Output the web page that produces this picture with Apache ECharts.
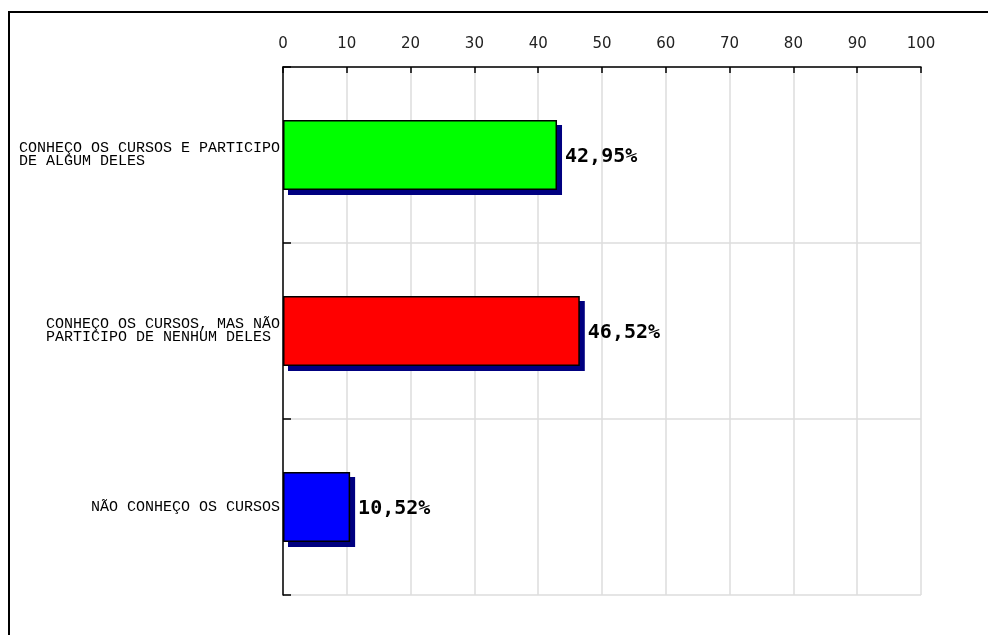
<!DOCTYPE html>
<html>
<head>
<meta charset="utf-8">
<script src="https://cdn.jsdelivr.net/npm/echarts@6/dist/echarts.min.js"></script>
<style>html,body{margin:0;padding:0;background:#fff}#c{width:988px;height:635px}</style>
</head>
<body>
<div id="c"></div>
<script>
var categories = [
  "CONHEÇO OS CURSOS E PARTICIPO\nDE ALGUM DELES",
  "CONHEÇO OS CURSOS, MAS NÃO\nPARTICIPO DE NENHUM DELES",
  "NÃO CONHEÇO OS CURSOS"
];
var values = [42.95, 46.52, 10.52];
var barColors = ["#00ff00", "#ff0000", "#0000ff"];
var xTicks = { min: 0, max: 100, interval: 10 };

function padLines(s) {
  var lines = s.split("\n");
  var m = Math.max.apply(null, lines.map(function (l) { return l.length; }));
  return lines.map(function (l) { while (l.length < m) l += " "; return l; }).join("\n");
}

var BAR_W = 70, SH = 5;

var chart = echarts.init(document.getElementById("c"), null, { renderer: "canvas" });
chart.setOption({
  animation: false,
  backgroundColor: "#fff",
  graphic: [{
    type: "rect",
    shape: { x: 9, y: 12, width: 1000, height: 700 },
    style: { fill: "none", stroke: "#000", lineWidth: 2 },
    z: 0
  }],
  grid: { left: 283, top: 67, right: 67, bottom: 40, containLabel: false },
  xAxis: {
    type: "value",
    position: "top",
    min: xTicks.min, max: xTicks.max, interval: xTicks.interval,
    axisLine: { show: true, lineStyle: { color: "#000", width: 1.5 } },
    axisTick: { show: true, inside: true, length: 6, lineStyle: { color: "#000", width: 1.5 } },
    axisLabel: { margin: 15, color: "#222", fontFamily: "DejaVu Sans", fontSize: 15 },
    splitLine: { show: true, lineStyle: { color: "#dcdcdc", width: 1.5 } }
  },
  yAxis: {
    type: "category",
    inverse: true,
    data: categories,
    axisLine: { show: true, lineStyle: { color: "#000", width: 1.5 } },
    axisTick: { show: true, inside: true, length: 8, lineStyle: { color: "#000", width: 1.5 } },
    axisLabel: {
      margin: 3, color: "#000", fontFamily: "Liberation Mono", fontSize: 15, lineHeight: 13,
      formatter: function (v) { return padLines(v); }
    },
    splitLine: { show: true, lineStyle: { color: "#dcdcdc", width: 1.5 } }
  },
  series: [{
    type: "custom",
    z: 1,
    data: values.map(function (v, i) { return [v, i]; }),
    encode: { x: 0, y: 1 },
    renderItem: function (params, api) {
      var s = api.coord([0, api.value(1)]);
      var e = api.coord([api.value(0), api.value(1)]);
      return {
        type: "rect",
        shape: { x: s[0] + SH, y: s[1] - BAR_W / 2 + SH, width: e[0] - s[0], height: BAR_W },
        style: { fill: "#000080" }
      };
    }
  }, {
    type: "bar",
    z: 2,
    data: values.map(function (v, i) { return { value: v, itemStyle: { color: barColors[i] } }; }),
    barWidth: BAR_W,
    itemStyle: { borderColor: "#000", borderWidth: 1.5 },
    label: {
      show: true, position: "right", distance: 8, offset: [0, 2],
      fontFamily: "DejaVu Sans Mono", fontWeight: "bold", fontSize: 20, color: "#000",
      formatter: function (p) { return p.value.toFixed(2).replace(".", ",") + "%"; }
    }
  }]
});
</script>
</body>
</html>
